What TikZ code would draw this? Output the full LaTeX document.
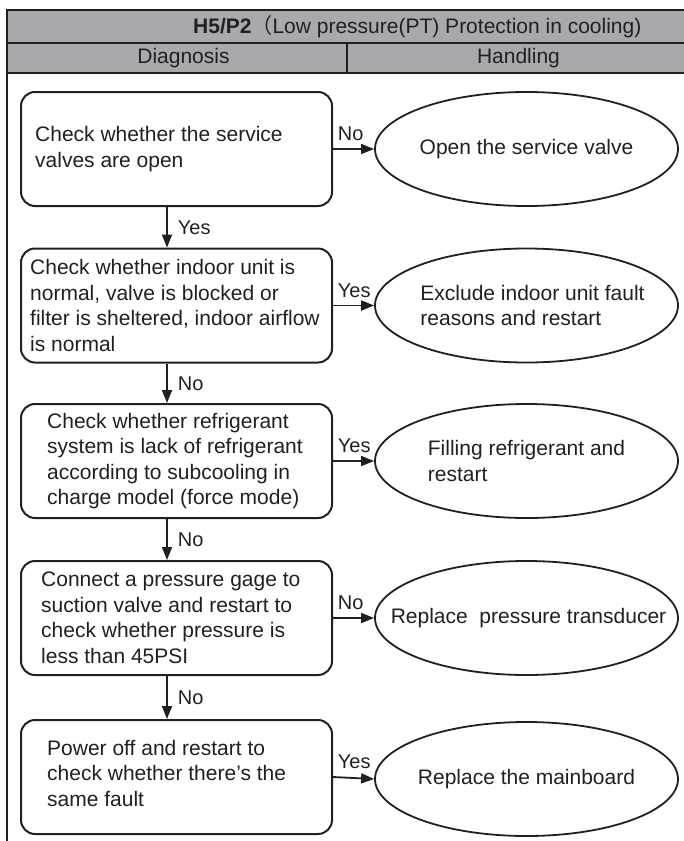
\documentclass[tikz,border=0pt]{standalone}
\usepackage{fontspec}
\setmainfont{Liberation Sans}
\newfontfamily\cjk{Noto Sans CJK SC}
\usetikzlibrary{positioning,shapes.geometric,arrows.meta}
\definecolor{ink}{RGB}{35,31,32}
\definecolor{hdrgray}{RGB}{167,169,172}

\begin{document}
\begin{tikzpicture}[x=1pt, y=-1pt,
    chk/.style={draw=ink, line width=2pt, rounded corners=14pt, minimum width=311pt, minimum height=114pt, inner sep=0pt},
    act/.style={draw=ink, line width=1.8pt, ellipse, minimum width=303pt, minimum height=114pt, inner sep=0pt},
    txt/.style={text=ink, align=left, inner sep=0pt, font=\fontsize{21}{25.5}\selectfont},
    lbl/.style={text=ink, inner sep=0pt, font=\fontsize{20}{24}\selectfont},
    arr/.style={draw=ink, line width=1.8pt, -{Triangle[length=13pt,width=10pt]}}]
    \useasboundingbox (0,0) rectangle (683,841);

    % Table header
    \draw[ink, line width=2pt, fill=hdrgray] (7,10) rectangle (700,43);
    \draw[ink, line width=2pt, fill=hdrgray] (7,43) rectangle (700,73);
    \draw[ink, line width=2pt] (347,43) -- (347,73);
    \draw[ink, line width=2pt] (7,73) -- (7,850);
    \node[txt, anchor=west] (title) at (193,27) {\textbf{H5/P2}{\cjk （}Low pressure(PT) Protection in cooling)};
    \node[txt] (diag) at (183.5,58.5) {Diagnosis};
    \node[txt] (hand) at (518.5,58.5) {Handling};

    % Diagnosis steps
    \node[chk] (b1) at (176.5,149) {};
    \node[chk] (b2) at (176.5,305.5) {};
    \node[chk] (b3) at (176.5,461) {};
    \node[chk] (b4) at (176.5,618) {};
    \node[chk] (b5) at (176.5,777) {};
    \node[txt, right=15pt of b1.west] (t1) {Check whether the service\\valves are open};
    \node[txt, right=10pt of b2.west] (t2) {Check whether indoor unit is\\normal, valve is blocked or\\filter is sheltered, indoor airflow\\is normal};
    \node[txt, right=27pt of b3.west] (t3) {Check whether refrigerant\\system is lack of refrigerant\\according to subcooling in\\charge model (force mode)};
    \node[txt, right=21pt of b4.west] (t4) {Connect a pressure gage to\\suction valve and restart to\\check whether pressure is\\less than 45PSI};
    \node[txt, right=27pt of b5.west, yshift=4pt] (t5) {Power off and restart to\\check whether there’s the\\same fault};

    % Handling
    \node[act] (e1) at (526.5,149) {};
    \node[act] (e2) at (526.5,305.5) {};
    \node[act] (e3) at (526.5,461) {};
    \node[act] (e4) at (526.5,618) {};
    \node[act] (e5) at (526.5,779) {};
    \node[txt] (u1) at (e1) {Open the service valve};
    \node[txt, xshift=6pt] (u2) at (e2) {Exclude indoor unit fault\\reasons and restart};
    \node[txt] (u3) at (e3) {Filling refrigerant and\\restart};
    \node[txt, xshift=2pt] (u4) at (e4) {Replace\ \ pressure transducer};
    \node[txt] (u5) at (e5) {Replace the mainboard};

    % Arrows
    \foreach \a/\b/\l in {b1/b2/Yes, b2/b3/No, b3/b4/No, b4/b5/No}
        \draw[arr] ([xshift=-9.5pt]\a.south) -- node[lbl, right=10pt] {\l} ([xshift=-9.5pt]\b.north);
    \foreach \i/\l in {1/No, 2/Yes, 3/Yes, 4/No, 5/Yes}
        \draw[arr] (b\i.east) -- node[lbl, pos=0, above right=7pt and 4pt] {\l} (e\i.west);
\end{tikzpicture}
\end{document}
